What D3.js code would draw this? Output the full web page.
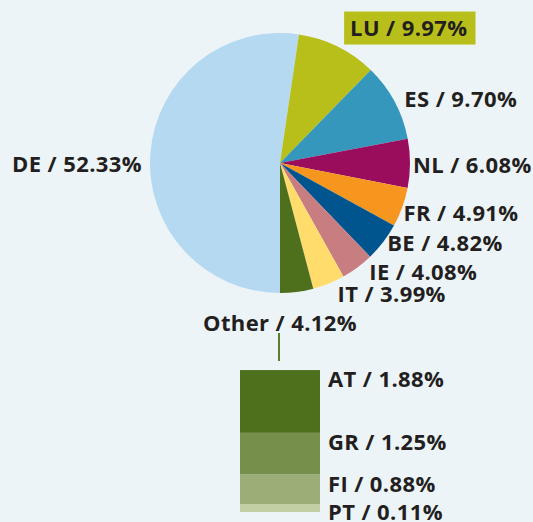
<!DOCTYPE html>
<html>
<head>
<meta charset="utf-8">
<script src="https://cdn.jsdelivr.net/npm/d3@7"></script>
<style>
    html, body { margin: 0; padding: 0; background: #edf4f8; }
    svg { display: block; }
    text { font-family: "Open Sans", sans-serif; font-weight: 700; fill: #231f20; letter-spacing: 0.4px; }
</style>
</head>
<body>
<svg id="chart" width="533" height="522"></svg>
<script>
// pie data (DE first, drawn from 6 o'clock clockwise)
const countries = ["DE", "LU", "ES", "NL", "FR", "BE", "IE", "IT", "Other"];
const shares = [52.33, 9.97, 9.70, 6.08, 4.91, 4.82, 4.08, 3.99, 4.12];
const pieColors = ["#b5d9f1", "#b8bf1a", "#3497bb", "#990d5c", "#f7961f", "#00558f", "#c87d80", "#ffdc6b", "#4e6f1b"];

// breakdown of "Other"
const otherCountries = ["AT", "GR", "FI", "PT"];
const otherShares = [1.88, 1.25, 0.88, 0.11];
const otherColors = ["#4e6f1b", "#768f4b", "#9bae77", "#c2cfa5"];

const options = {
    width: 533,
    height: 522,
    cx: 280,
    cy: 163,
    radius: 130,
    labelRadius: 140,
    fontSize: 22,
    // small manual tweaks so labels don't collide
    labelNudge: {
        ES: [1, 3],
        NL: [-7, 1.5],
        FR: [-8, 2.5],
        BE: [-4, -4.5],
        IE: [6, -3.5],
        IT: [5, 1.5],
        LU: [2, -9.5],
    },
    bar: { x: 240, width: 80, bottom: 512, pxPerPercent: 33.4, minHeight: 8, labelDy: 17 },
};

const fmt = v => v.toFixed(2) + "%";

const svg = d3.select("#chart");

// background
svg.append("rect")
    .attr("width", options.width)
    .attr("height", options.height)
    .attr("fill", "#edf4f8");

const data = countries.map((c, i) => ({ country: c, share: shares[i], color: pieColors[i] }));

const pie = d3.pie()
    .value(d => d.share)
    .sort(null)
    .startAngle(Math.PI)
    .endAngle(3 * Math.PI);

const arcs = pie(data);

const arc = d3.arc().innerRadius(0).outerRadius(options.radius);

const pieG = svg.append("g")
    .attr("transform", `translate(${options.cx},${options.cy})`);

pieG.selectAll("path")
    .data(arcs)
    .join("path")
    .attr("d", arc)
    .attr("fill", d => d.data.color);

// labels
const labelPoint = (d, r) => {
    const a = (d.startAngle + d.endAngle) / 2;
    const [nx, ny] = options.labelNudge[d.data.country] || [0, 0];
    return [r * Math.sin(a) + nx, -r * Math.cos(a) + ny];
};

const labelsG = svg.append("g")
    .attr("transform", `translate(${options.cx},${options.cy})`)
    .style("font-size", options.fontSize + "px");

arcs.forEach(d => {
    const txt = `${d.data.country} / ${fmt(d.data.share)}`;
    const c = d.data.country;
    if (c === "DE") {
        labelsG.append("text")
            .attr("x", -options.radius - 8)
            .attr("y", 1)
            .attr("dy", "0.35em")
            .attr("text-anchor", "end")
            .text(txt);
    } else if (c === "Other") {
        labelsG.append("text")
            .attr("x", 0)
            .attr("y", options.radius + 38)
            .attr("text-anchor", "middle")
            .text(txt);
        labelsG.append("line")
            .attr("x1", -1).attr("x2", -1)
            .attr("y1", options.radius + 40)
            .attr("y2", options.radius + 68)
            .attr("stroke", "#5b7f2a")
            .attr("stroke-width", 2);
    } else if (c === "LU") {
        const [x, y] = labelPoint(d, options.labelRadius);
        const g = labelsG.append("g").attr("transform", `translate(${x},${y})`);
        const t = g.append("text")
            .attr("x", 6)
            .attr("dy", "0.35em")
            .text(txt);
        const w = t.node().getComputedTextLength();
        g.insert("rect", "text")
            .attr("x", 0)
            .attr("y", -16.5)
            .attr("width", w + 14)
            .attr("height", 33)
            .attr("fill", d.data.color);
    } else {
        const [x, y] = labelPoint(d, options.labelRadius);
        labelsG.append("text")
            .attr("x", x)
            .attr("y", y)
            .attr("dy", "0.35em")
            .attr("text-anchor", "start")
            .text(txt);
    }
});

// stacked bar for "Other"
const h = d3.scaleLinear().domain([0, 1]).range([0, options.bar.pxPerPercent]);
const segHeights = otherShares.map(v => Math.max(h(v), options.bar.minHeight));
const totalH = d3.sum(segHeights);
let segTop = options.bar.bottom - totalH;
const segs = otherCountries.map((c, i) => {
    const s = { country: c, share: otherShares[i], color: otherColors[i], y: segTop, h: segHeights[i] };
    segTop += segHeights[i];
    return s;
});

const barG = svg.append("g");
barG.selectAll("rect")
    .data(segs)
    .join("rect")
    .attr("x", options.bar.x)
    .attr("y", d => d.y)
    .attr("width", options.bar.width)
    .attr("height", d => d.h)
    .attr("fill", d => d.color);

barG.selectAll("text")
    .data(segs)
    .join("text")
    .attr("x", options.bar.x + options.bar.width + 8)
    .attr("y", d => Math.min(d.y + options.bar.labelDy, options.height - 2))
    .style("font-size", options.fontSize + "px")
    .text(d => `${d.country} / ${fmt(d.share)}`);
</script>
</body>
</html>
